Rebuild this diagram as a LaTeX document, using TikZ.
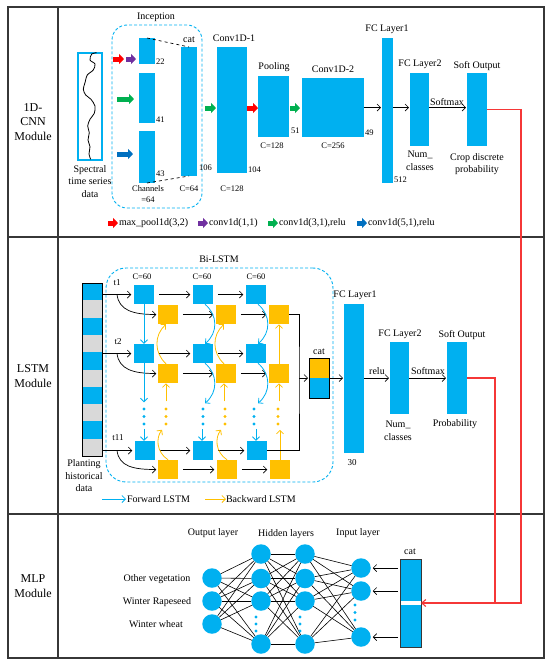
\documentclass[tikz,border=0pt]{standalone}
\usepackage{fontspec}
\setmainfont{Liberation Serif}
\usetikzlibrary{arrows.meta,calc}
\definecolor{cb}{RGB}{0,176,240}
\definecolor{yl}{RGB}{255,192,0}
\definecolor{gr}{RGB}{217,217,217}
\definecolor{rd}{RGB}{255,0,0}
\definecolor{pu}{RGB}{112,48,160}
\definecolor{gn}{RGB}{0,176,80}
\definecolor{bl}{RGB}{0,112,192}
\definecolor{rl}{RGB}{245,55,55}
\definecolor{frm}{RGB}{55,55,55}
\begin{document}
\begin{tikzpicture}[x=1pt,y=-1pt,
  every node/.style={inner sep=0pt,outer sep=0pt},
  bar/.style={fill=cb,draw=none},
  lbl/.style={font=\fontsize{10}{12.5}\selectfont,align=center},
  sm/.style={font=\fontsize{8.5}{11}\selectfont,align=center},
  big/.style={font=\fontsize{12}{14.5}\selectfont,align=center},
  arr/.style={draw=black,line width=0.7pt,-{Straight Barb[length=3.5pt,width=7pt]}},
  blk/.style={line width=5pt,-{Triangle[length=5pt,width=10pt]}},
  cyarr/.style={draw=cb,line width=0.8pt,-{Straight Barb[length=3.5pt,width=7pt]}},
  ylarr/.style={draw=yl,line width=0.8pt,-{Straight Barb[length=3.5pt,width=7pt]}},
  bsq/.style={fill=cb,minimum size=19.5pt},
  ysq/.style={fill=yl,minimum size=19.5pt},
  neu/.style={circle,fill=cb,minimum size=19.5pt},
  dashbox/.style={draw=cb,line width=0.9pt,dash pattern=on 3pt off 2pt},
  redl/.style={draw=rl,line width=1.1pt},
  wire/.style={draw=black,line width=0.6pt},
]
\useasboundingbox (0,0) rectangle (550,665);
% ---------------- frame
\draw[frm,line width=1.3pt] (8,7) rectangle (544,658);
\draw[frm,line width=1.3pt] (58,7) -- (58,658);
\draw[frm,line width=1.3pt] (8,237) -- (544,237);
\draw[frm,line width=1.3pt] (8,514) -- (544,514);
\node[big] (m1) at (33,122) {1D-\\CNN\\Module};
\node[big] (m2) at (33,376) {LSTM\\Module};
\node[big] (m3) at (33,586) {MLP\\Module};

% ---------------- 1D-CNN module
\node[draw=cb,line width=1.2pt,minimum width=24pt,minimum height=107pt] (spec) at (90,106.5) {};
\draw[line width=0.8pt] plot[smooth] coordinates {(96.7,52.7)(91.7,54)(90,60)(95,64)(93.3,70)(87.3,75)(85,82.7)(83.3,89.3)(85.7,95)(91,99.3)(95,106)(94.3,113.3)(90,119.3)(87.7,126)(89.3,132.7)(88,140)(90,146.7)(89,154)(90.7,159.3)};
\node[lbl] (spect) at (90,181.5) {Spectral\\time series\\data};

\node[dashbox,rounded corners=15pt,minimum width=90pt,minimum height=183pt] (incep) at (157,116.5) {};
\node[lbl] (incl) at (156,17) {Inception};

\node[bar,minimum width=16pt,minimum height=26pt] (b1) at (147,51) {};
\node[bar,minimum width=16pt,minimum height=50pt] (b2) at (147,98) {};
\node[bar,minimum width=16pt,minimum height=52pt] (b3) at (147,157) {};
\node[bar,minimum width=16pt,minimum height=129pt] (cat1) at (189,111.5) {};
\node[sm,anchor=west] (n22) at (156,62) {22};
\node[sm,anchor=west] (n41) at (156,120) {41};
\node[sm,anchor=west] (n43) at (156,174) {43};
\node[sm,anchor=west] (n106) at (199,168) {106};
\node[lbl] (catl) at (189,40) {cat};
\node[sm] (chan) at (148,194.5) {Channels\\=64};
\node[sm] (c64) at (189,189) {C=64};
\draw[dashed,line width=0.7pt] (b1.north) -- (cat1.north);
\draw[dashed,line width=0.7pt] (b3.south) -- (cat1.south);

\draw[blk,rd] (113,59) -- (124,59);
\draw[blk,pu] (126,59) -- (136,59);
\draw[blk,gn] (117,99) -- (134,99);
\draw[blk,bl] (117,154) -- (133,154);

\node[bar,minimum width=30pt,minimum height=126pt] (conv1) at (232,110) {};
\node[lbl] (conv1l) at (234,38) {Conv1D-1};
\node[sm,anchor=west] (n104) at (248,170) {104};
\node[sm] (c128a) at (232,189) {C=128};
\draw[blk,gn] (205,108) -- (216,108);

\node[bar,minimum width=31pt,minimum height=61pt] (pool) at (273.5,106.5) {};
\node[lbl] (pooll) at (274,67) {Pooling};
\node[sm,anchor=west] (n51) at (291,131) {51};
\node[sm] (c128b) at (272,146) {C=128};
\draw[blk,rd] (247,108) -- (258,108);

\node[bar,minimum width=62pt,minimum height=59pt] (conv2) at (333,107.5) {};
\node[lbl] (conv2l) at (333,69) {Conv1D-2};
\node[sm,anchor=west] (n49) at (365,133) {49};
\node[sm] (c256) at (333,146) {C=256};
\draw[blk,gn] (290,108) -- (300,108);

\node[bar,minimum width=11pt,minimum height=145pt] (fc1) at (387.5,110.5) {};
\node[lbl] (fc1l) at (387,29) {FC Layer1};
\node[sm,anchor=west] (n512) at (394,180) {512};
\node[bar,minimum width=19pt,minimum height=73pt] (fc2) at (419.5,109.5) {};
\node[lbl] (fc2l) at (420,64) {FC Layer2};
\node[lbl] (numc) at (420,161) {Num\_\\classes};
\node[bar,minimum width=20pt,minimum height=73pt] (so1) at (477,109.5) {};
\node[lbl] (so1l) at (477,66) {Soft Output};
\node[lbl] (crop) at (477,164) {Crop discrete\\probability};

\draw[arr,shorten >=1pt] (conv2.east) -- (fc1.west |- conv2.east);
\draw[arr,shorten >=1pt] (fc1.east |- conv2.east) -- (fc2.west |- conv2.east);
\draw[arr,shorten >=1pt] (fc2.east |- conv2.east) -- (so1.west |- conv2.east);
\node[lbl] (smx1) at (447,102) {Softmax};

% legend
\draw[blk,rd] (108,223) -- (118,223);
\node[lbl,anchor=west] (lg1) at (119,223) {max\_pool1d(3,2)};
\draw[blk,pu] (198,223) -- (208,223);
\node[lbl,anchor=west] (lg2) at (209,223) {conv1d(1,1)};
\draw[blk,gn] (268,223) -- (278,223);
\node[lbl,anchor=west] (lg3) at (279,223) {conv1d(3,1),relu};
\draw[blk,bl] (357,223) -- (367,223);
\node[lbl,anchor=west] (lg4) at (368,223) {conv1d(5,1),relu};

% ---------------- LSTM module
\foreach \i/\c in {0/cb,1/gr,2/cb,3/gr,4/cb,5/gr,6/cb,7/gr,8/cb,9/gr}
  \fill[\c] (82,{283+17.3*\i}) rectangle (102,{283+17.3*(\i+1)});
\node[draw,line width=0.8pt,minimum width=20pt,minimum height=173pt] (hist) at (92,369.5) {};
\node[lbl] (histl) at (84,476) {Planting\\historical\\data};

\node[dashbox,rounded corners=20pt,minimum width=227pt,minimum height=214pt] (bil) at (219.5,375) {};
\node[lbl] (bill) at (219,259) {Bi-LSTM};

\node[bsq] (B11) at (144,294.5) {};
\node[bsq] (B12) at (203,294.5) {};
\node[bsq] (B13) at (256,294.5) {};
\node[bsq] (B21) at (144,353.5) {};
\node[bsq] (B22) at (203,353.5) {};
\node[bsq] (B23) at (256,353.5) {};
\node[bsq] (B31) at (145,450.5) {};
\node[bsq] (B32) at (203,450.5) {};
\node[bsq] (B33) at (257,450.5) {};
\node[ysq] (Y11) at (168,314.5) {};
\node[ysq] (Y12) at (226,314.5) {};
\node[ysq] (Y13) at (279,314.5) {};
\node[ysq] (Y21) at (168,373.5) {};
\node[ysq] (Y22) at (226,373.5) {};
\node[ysq] (Y23) at (279,373.5) {};
\node[ysq] (Y31) at (168,469.5) {};
\node[ysq] (Y32) at (227,469.5) {};
\node[ysq] (Y33) at (280,469.5) {};

\node[sm] (c60a) at (142,277) {C=60};
\node[sm] (c60b) at (202,277) {C=60};
\node[sm] (c60c) at (256,277) {C=60};
\node[sm,font=\fontsize{9}{10}\selectfont] (t1) at (117,283) {t1};
\node[sm,font=\fontsize{9}{10}\selectfont] (t2) at (118,342) {t2};
\node[sm,font=\fontsize{9}{10}\selectfont] (t11) at (118,438) {t11};

% inputs
\foreach \r in {1,2,3}{
  \draw[arr,shorten >=3pt] (hist.east |- B\r1.west) -- (B\r1.west);
  \draw[arr,shorten >=2pt] ($(hist.east |- B\r1.west)+(15,0)$) .. controls +(2,16) and +(-25,0) .. (Y\r1.west);
}
% horizontal
\foreach \r in {1,2,3}{
  \draw[arr,shorten <=5pt,shorten >=3pt] (B\r1) -- (B\r2);
  \draw[arr,shorten <=5pt,shorten >=3pt] (B\r2) -- (B\r3);
  \draw[arr,shorten <=5pt,shorten >=3pt] (Y\r1) -- (Y\r2);
  \draw[arr,shorten <=5pt,shorten >=3pt] (Y\r2) -- (Y\r3);
}
% dots
\foreach \x in {144,203,254}
  \foreach \y in {409,416.5,424} \fill[cb] (\x,\y) circle (1.6pt);
\foreach \x in {166,225,278}
  \foreach \y in {409,416.5,424} \fill[yl] (\x,\y) circle (1.6pt);
% forward (blue) verticals
\draw[cyarr] (B11) -- (B21);
\draw[cyarr] (B21.south) -- ++(0,39);
\draw[cyarr] ($(B31.north)+(-1,-12)$) -- ($(B31.north)+(-1,0)$);
\foreach \c in {2,3}{
  \draw[cyarr] ($(B1\c.south)+(2,0)$) .. controls +(13,11) and +(13,-11) .. ($(B2\c.north)+(2,0)$);
  \draw[cyarr] ($(B2\c.south)+(2,0)$) .. controls +(13,11) and +(13,-11) .. ($(B2\c.south)+(2,40)$);
  \draw[cyarr] ($(B3\c.north)+(-1,-12)$) -- ($(B3\c.north)+(-1,0)$);
}
% backward (yellow) verticals
\foreach \c in {1,2}{
  \draw[ylarr] ($(Y2\c.north)+(-2,0)$) .. controls +(-12,-11) and +(-12,11) .. ($(Y1\c.south)+(-2,0)$);
  \draw[ylarr] ($(Y2\c.south)+(-2,18)$) -- ($(Y2\c.south)+(-2,0)$);
  \draw[ylarr] (Y3\c.north) .. controls +(-12,-8) and +(-6,8) .. ($(Y3\c.north)+(-6,-30)$);
}
\draw[ylarr] (Y23) -- (Y13);
\draw[ylarr] ($(Y23.south)+(0,18)$) -- (Y23.south);
\draw[ylarr] (Y33.north) -- ++(0,-30);

% collect to cat
\fill[yl] (309,358) rectangle (329,378);
\fill[cb] (309,378) rectangle (329,398);
\node[draw,line width=0.8pt,minimum width=20pt,minimum height=40pt] (cat2) at (319,378) {};
\node[lbl] (cat2l) at (319,352) {cat};
\coordinate (jn) at (299,378);
\draw[line width=0.7pt] (Y13.east) -| (jn) |- (B33.east);
\draw[arr,shorten >=1pt] (jn) -- (cat2.west);

\node[bar,minimum width=20pt,minimum height=149pt] (fc1L) at (354,378.5) {};
\node[lbl] (fc1Ll) at (355,295) {FC Layer1};
\node[sm,font=\fontsize{9}{10}\selectfont] (n30) at (352,463) {30};
\node[bar,minimum width=19pt,minimum height=72pt] (fc2L) at (399.5,378) {};
\node[lbl] (fc2Ll) at (400,334) {FC Layer2};
\node[lbl] (numc2) at (398,431) {Num\_\\classes};
\node[bar,minimum width=20pt,minimum height=72pt] (so2) at (457,378) {};
\node[lbl] (so2l) at (462,335) {Soft Output};
\node[lbl] (prob) at (455,424) {Probability};
\draw[arr,shorten >=1pt] (cat2.east) -- (fc1L.west |- cat2.east);
\draw[arr,shorten >=1pt] (fc1L.east |- cat2.east) -- (fc2L.west |- cat2.east);
\node[lbl] (relu) at (377,371) {relu};
\draw[arr,shorten >=1pt] (fc2L.east |- cat2.east) -- (so2.west |- cat2.east);
\node[lbl] (smx2) at (428,371) {Softmax};

% legend LSTM
\coordinate (fl0) at (102,499);
\coordinate (fl1) at (126,499);
\draw[cyarr] (fl0) -- (fl1);
\node[lbl,anchor=west] (fll) at (127,499) {Forward LSTM};
\coordinate (bl0) at (205,499);
\coordinate (bl1) at (226,499);
\draw[ylarr] (bl0) -- (bl1);
\node[lbl,anchor=west] (bll) at (226,499) {Backward LSTM};

% ---------------- MLP module
\node[lbl] (outl) at (213,533) {Output layer};
\node[lbl] (hidl) at (286,534) {Hidden layers};
\node[lbl] (inl) at (358,533) {Input layer};
\node[lbl] (cls1) at (157,579) {Other vegetation};
\node[lbl] (cls2) at (157,602) {Winter Rapeseed};
\node[lbl] (cls3) at (156,624) {Winter wheat};

\node[neu] (O1) at (212,578) {};
\node[neu] (O2) at (212,601) {};
\node[neu] (O3) at (212,624) {};
\node[neu] (H1) at (261,554) {};
\node[neu] (H2) at (261,578.5) {};
\node[neu] (H3) at (261,601) {};
\node[neu] (H4) at (261,644) {};
\node[neu] (G1) at (305,554) {};
\node[neu] (G2) at (305,578.5) {};
\node[neu] (G3) at (305,601) {};
\node[neu] (G4) at (305,644) {};
\node[neu] (I1) at (361,568) {};
\node[neu] (I2) at (361,591) {};
\node[neu] (I3) at (361,637) {};
\foreach \a in {O1,O2,O3} \foreach \b in {H1,H2,H3,H4} \draw[wire] (\a) -- (\b);
\foreach \a in {H1,H2,H3,H4} \foreach \b in {G1,G2,G3,G4} \draw[wire] (\a) -- (\b);
\foreach \a in {G1,G2,G3,G4} \foreach \b in {I1,I2,I3} \draw[wire] (\a) -- (\b);
\foreach \x in {256,300} \foreach \y in {617,624,631} \fill[cb] (\x,\y) circle (1.6pt);
\foreach \y in {605,612.5,620} \fill[cb] (355,\y) circle (1.6pt);

\node[fill=cb,minimum width=21pt,minimum height=88pt] (mcat) at (410.5,603) {};
\fill[white] ($(mcat.west)+(0,-1.7)$) rectangle ($(mcat.east)+(0,1.7)$);
\draw[frm,line width=0.8pt] (mcat.north west) rectangle (mcat.south east);
\node[lbl] (mcatl) at (410,552) {cat};
\foreach \n in {I1,I2,I3} \draw[arr,shorten <=2pt,shorten >=2pt] (mcat.west |- \n) -- (\n);

% red links
\draw[redl,-{Straight Barb[length=4pt,width=7pt]}] (so1.east) -| (521,603) -- (mcat.east);
\draw[redl] (so2.east) -| ($(mcat.east)+(74,0)$);
\end{tikzpicture}
\end{document}
